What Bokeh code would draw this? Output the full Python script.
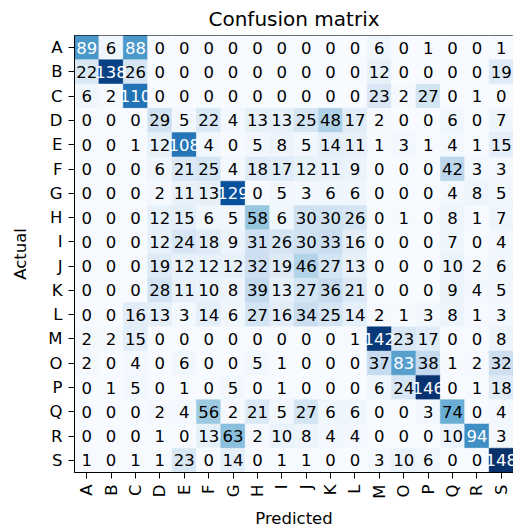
from bokeh.plotting import figure
from bokeh.models import ColumnDataSource, FactorRange, LinearColorMapper
from bokeh.palettes import Blues256
from bokeh.transform import transform
from bokeh.embed import file_html
from bokeh.resources import INLINE
from bokeh.core.properties import value
import math

labels = ["A", "B", "C", "D", "E", "F", "G", "H", "I", "J", "K", "L", "M", "O", "P", "Q", "R", "S"]

row_A = [89, 6, 88, 0, 0, 0, 0, 0, 0, 0, 0, 0, 6, 0, 1, 0, 0, 1]
row_B = [22, 138, 26, 0, 0, 0, 0, 0, 0, 0, 0, 0, 12, 0, 0, 0, 0, 19]
row_C = [6, 2, 110, 0, 0, 0, 0, 0, 0, 0, 0, 0, 23, 2, 27, 0, 1, 0]
row_D = [0, 0, 0, 29, 5, 22, 4, 13, 13, 25, 48, 17, 2, 0, 0, 6, 0, 7]
row_E = [0, 0, 1, 12, 108, 4, 0, 5, 8, 5, 14, 11, 1, 3, 1, 4, 1, 15]
row_F = [0, 0, 0, 6, 21, 25, 4, 18, 17, 12, 11, 9, 0, 0, 0, 42, 3, 3]
row_G = [0, 0, 0, 2, 11, 13, 129, 0, 5, 3, 6, 6, 0, 0, 0, 4, 8, 5]
row_H = [0, 0, 0, 12, 15, 6, 5, 58, 6, 30, 30, 26, 0, 1, 0, 8, 1, 7]
row_I = [0, 0, 0, 12, 24, 18, 9, 31, 26, 30, 33, 16, 0, 0, 0, 7, 0, 4]
row_J = [0, 0, 0, 19, 12, 12, 12, 32, 19, 46, 27, 13, 0, 0, 0, 10, 2, 6]
row_K = [0, 0, 0, 28, 11, 10, 8, 39, 13, 27, 36, 21, 0, 0, 0, 9, 4, 5]
row_L = [0, 0, 16, 13, 3, 14, 6, 27, 16, 34, 25, 14, 2, 1, 3, 8, 1, 3]
row_M = [2, 2, 15, 0, 0, 0, 0, 0, 0, 0, 0, 1, 142, 23, 17, 0, 0, 8]
row_O = [2, 0, 4, 0, 6, 0, 0, 5, 1, 0, 0, 0, 37, 83, 38, 1, 2, 32]
row_P = [0, 1, 5, 0, 1, 0, 5, 0, 1, 0, 0, 0, 6, 24, 146, 0, 1, 18]
row_Q = [0, 0, 0, 2, 4, 56, 2, 21, 5, 27, 6, 6, 0, 0, 3, 74, 0, 4]
row_R = [0, 0, 0, 1, 0, 13, 63, 2, 10, 8, 4, 4, 0, 0, 0, 10, 94, 3]
row_S = [1, 0, 1, 1, 23, 0, 14, 0, 1, 1, 0, 0, 3, 10, 6, 0, 0, 148]

rows = [row_A, row_B, row_C, row_D, row_E, row_F, row_G, row_H, row_I,
        row_J, row_K, row_L, row_M, row_O, row_P, row_Q, row_R, row_S]

vmax = max(max(r) for r in rows)
thresh = vmax / 2.0

xs, ys, vals, txt, tcol = [], [], [], [], []
for actual, r in zip(labels, rows):
    for pred, v in zip(labels, r):
        xs.append(pred)
        ys.append(actual)
        vals.append(v)
        txt.append(str(v))
        tcol.append("white" if v > thresh else "black")

src = ColumnDataSource(dict(x=xs, y=ys, v=vals, t=txt, c=tcol))

FONT = "DejaVu Sans"

p = figure(width=513, height=531,
           x_range=FactorRange(*labels),
           y_range=FactorRange(*reversed(labels)),
           output_backend="svg", toolbar_location=None,
           min_border_left=74, min_border_right=0,
           min_border_top=33, min_border_bottom=59)

mapper = LinearColorMapper(palette=list(reversed(Blues256)), low=0, high=vmax)
p.rect(x="x", y="y", width=1, height=1, source=src,
       fill_color=transform("v", mapper), line_color=transform("v", mapper),
       line_width=0.5)
p.text(x="x", y="y", text="t", source=src, text_color="c",
       text_align="center", text_baseline="middle",
       text_font=value(FONT), text_font_size="16.5px")

p.title.text = "Confusion matrix"
p.title.align = "center"
p.title.text_font = FONT
p.title.text_font_size = "20px"
p.title.text_font_style = "normal"
p.title.text_color = "black"
p.title.standoff = 9

p.xgrid.visible = False
p.ygrid.visible = False
p.outline_line_color = "black"
p.outline_line_width = 1
p.outline_line_alpha = 1

for ax in (p.xaxis[0], p.yaxis[0]):
    ax.major_label_text_font = FONT
    ax.major_label_text_font_size = "16.5px"
    ax.major_label_text_color = "black"
    ax.axis_label_text_font = FONT
    ax.axis_label_text_font_size = "16.5px"
    ax.axis_label_text_font_style = "normal"
    ax.axis_label_text_color = "black"
    ax.major_tick_out = 6
    ax.major_tick_in = 0
    ax.major_tick_line_color = "black"
    ax.axis_line_color = "black"
    ax.minor_tick_line_color = None

p.xaxis.axis_label = "Predicted"
p.yaxis.axis_label = "Actual"
p.xaxis.major_label_orientation = math.pi / 2
p.xaxis.major_label_standoff = 6
p.yaxis.major_label_standoff = 6
p.yaxis.axis_label_standoff = 15
p.xaxis.axis_label_standoff = 7

open("out.html", "w").write(file_html(p, INLINE))
